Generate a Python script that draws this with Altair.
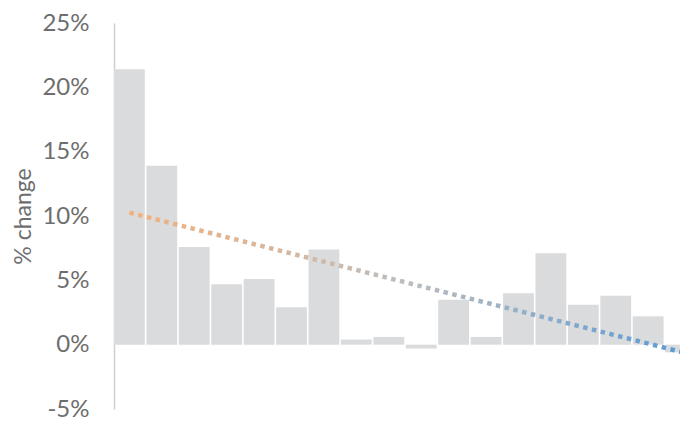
import altair as alt
import pandas as pd

periods = list(range(1, 19))
pct_change = [0.214, 0.139, 0.076, 0.047, 0.051, 0.029, 0.074, 0.004, 0.006,
              -0.003, 0.035, 0.006, 0.040, 0.071, 0.031, 0.038, 0.022, -0.006]

df = pd.DataFrame({"period": periods, "change": pct_change})

FONT = "Lato"
GRAY_TXT = "#6e6e6e"

x_enc = alt.X("period:O", axis=None,
              scale=alt.Scale(paddingInner=0.05, paddingOuter=0, range=[0, 582]))

bars = alt.Chart(df).mark_bar(color="#dadbdd").encode(
    x=x_enc,
    y=alt.Y("change:Q",
            scale=alt.Scale(domain=[-0.05, 0.25], nice=False),
            axis=alt.Axis(format=".0%", values=[-0.05, 0, 0.05, 0.1, 0.15, 0.2, 0.25],
                          labelExpr="replace(datum.label, '\u2212', '-')",
                          grid=False, ticks=False, domain=True,
                          domainColor="#d0d0d0", domainWidth=1.5,
                          labelFont=FONT, labelFontSize=24, labelColor=GRAY_TXT,
                          labelPadding=25,
                          title="% change", titleFont=FONT, titleFontSize=23,
                          titleFontWeight="normal", titleColor=GRAY_TXT,
                          titlePadding=6)),
)

trend = alt.Chart(df).transform_regression("period", "change").mark_line(
    strokeWidth=4.5, strokeDash=[4.5, 4.5],
    stroke=alt.Gradient(
        gradient="linear",
        stops=[alt.GradientStop(color="#f4b07a", offset=0),
               alt.GradientStop(color="#bdbdbd", offset=0.5),
               alt.GradientStop(color="#5b9bd5", offset=1)],
        x1=0, x2=1, y1=0, y2=0),
).encode(
    x=alt.X("period:O"),
    y=alt.Y("change:Q"),
)

chart = alt.layer(bars, trend).properties(
    width=566, height=386,
    autosize=alt.AutoSizeParams(type="none"),
    padding={"left": 106, "top": 15, "right": 0, "bottom": 12},
).configure_view(stroke=None)

chart.save("out.html", embed_options={"renderer": "svg", "actions": False})
